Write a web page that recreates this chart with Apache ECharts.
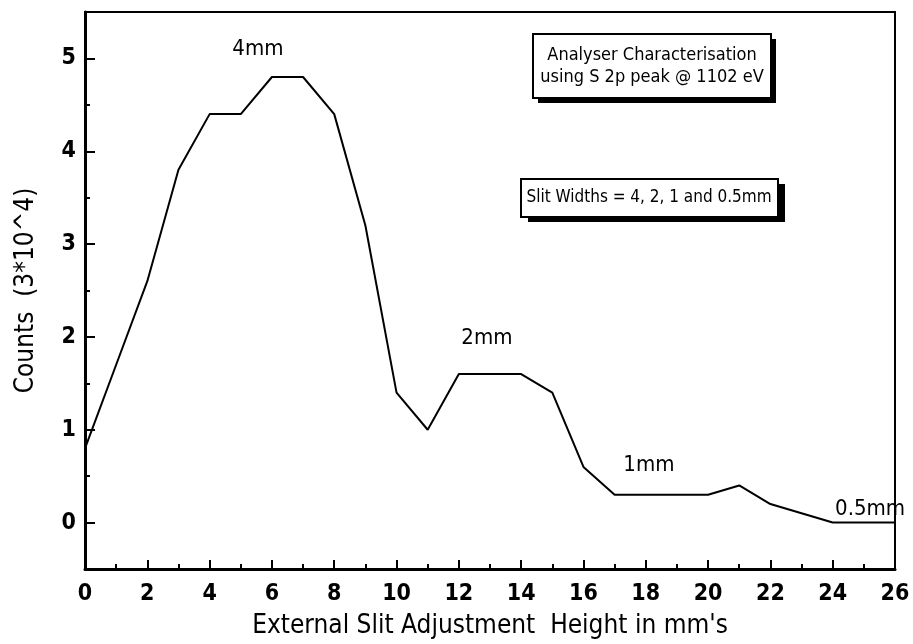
<!DOCTYPE html>
<html><head><meta charset="utf-8">
<script src="https://cdn.jsdelivr.net/npm/echarts@6/dist/echarts.min.js"></script>
<style>html,body{margin:0;padding:0;background:#fff}#c{width:913px;height:644px}</style>
</head><body><div id="c"></div>
<script>
const xValues = [0,1,2,3,4,5,6,7,8,9,10,11,12,13,14,15,16,17,18,19,20,21,22,23,24,25,26];
const counts  = [0.8,1.7,2.6,3.8,4.4,4.4,4.8,4.8,4.4,3.2,1.4,1.0,1.6,1.6,1.6,1.4,0.6,0.3,0.3,0.3,0.3,0.4,0.2,0.1,0,0,0];
const yTickLabels = [0,1,2,3,4,5];
const yMinorTicks = [-0.5,0.5,1.5,2.5,3.5,4.5,5.5];
const peakLabels = ['4mm','2mm','1mm','0.5mm'];
const boxText1 = ['Analyser Characterisation','using S 2p peak @ 1102 eV'];
const boxText2 = 'Slit Widths = 4, 2, 1 and 0.5mm';
const xTitle = "External Slit Adjustment  Height in mm's";
const yTitle = 'Counts  (3*10^4)';

const F = "'DejaVu Sans Condensed','DejaVu Sans',sans-serif";
function draw(){
const chart = echarts.init(document.getElementById('c'));
chart.setOption({
  animation:false,
  grid:{left:85,right:18,top:12,bottom:74,show:true,borderColor:'#000',borderWidth:2,backgroundColor:'transparent'},
  xAxis:{type:'value',min:0,max:26,interval:2,
    name:xTitle,nameLocation:'middle',nameGap:44,
    nameTextStyle:{fontFamily:F,fontSize:26,color:'#000'},
    axisLine:{onZero:false,lineStyle:{color:'#000',width:3}},
    axisTick:{inside:true,length:9,lineStyle:{color:'#000',width:2}},
    minorTick:{show:true,splitNumber:2,length:5,lineStyle:{color:'#000',width:2}},
    axisLabel:{fontFamily:F,fontSize:23,color:'#000',fontWeight:'bold',margin:14},
    splitLine:{show:false}},
  yAxis:[{type:'value',min:-0.5,max:5.5,interval:0.5,
    name:yTitle,nameLocation:'middle',nameGap:46,nameRotate:90,
    nameTextStyle:{fontFamily:F,fontSize:26,color:'#000'},
    axisLine:{lineStyle:{color:'#000',width:3}},
    axisTick:{inside:true,length:10,customValues:yTickLabels,lineStyle:{color:'#000',width:2}},
    axisLabel:{customValues:yTickLabels,fontFamily:F,fontSize:23,color:'#000',fontWeight:'bold',margin:9},
    splitLine:{show:false}},
   {type:'value',min:-0.5,max:5.5,interval:0.5,position:'left',
    axisLine:{show:false},
    axisTick:{show:true,inside:true,length:5,customValues:yMinorTicks,lineStyle:{color:'#000',width:2}},
    axisLabel:{show:false},splitLine:{show:false}}],
  series:[{type:'line',data:xValues.map((x,i)=>[x,counts[i]]),symbol:'none',
    lineStyle:{color:'#000',width:2},
    markPoint:{symbol:'circle',symbolSize:0,
      label:{show:true,fontFamily:F,fontSize:22,color:'#000',position:'inside'},
      data:[
        {coord:[5.55,5.1],value:peakLabels[0]},
        {coord:[12.9,1.99],value:peakLabels[1]},
        {coord:[18.1,0.62],value:peakLabels[2]},
        {coord:[25.2,0.14],value:peakLabels[3]}
      ].map(d=>({coord:d.coord,label:{formatter:d.value}}))}
  }],
  graphic:[
    {type:'rect',shape:{x:538,y:39,width:238,height:64},style:{fill:'#000'}},
    {type:'rect',shape:{x:533,y:34,width:238,height:64},style:{fill:'#fff',stroke:'#000',lineWidth:2}},
    {type:'text',x:652,y:66,style:{text:boxText1.join('\n'),fontFamily:F,fontSize:18,fill:'#000',align:'center',verticalAlign:'middle',lineHeight:22}},
    {type:'rect',shape:{x:528,y:184,width:257,height:38},style:{fill:'#000'}},
    {type:'rect',shape:{x:521,y:179,width:257,height:38},style:{fill:'#fff',stroke:'#000',lineWidth:2}},
    {type:'text',x:649,y:198,style:{text:boxText2,fontFamily:F,fontSize:17,fill:'#000',align:'center',verticalAlign:'middle'}}
  ]
});
}
let done=false;
function go(){ if(!done){done=true;draw();} }
if (document.fonts && document.fonts.load) {
  Promise.all([
    document.fonts.load("bold 23px 'DejaVu Sans Condensed'"),
    document.fonts.load("22px 'DejaVu Sans Condensed'")
  ]).then(go, go);
  setTimeout(go, 300);
} else { go(); }
</script></body></html>
